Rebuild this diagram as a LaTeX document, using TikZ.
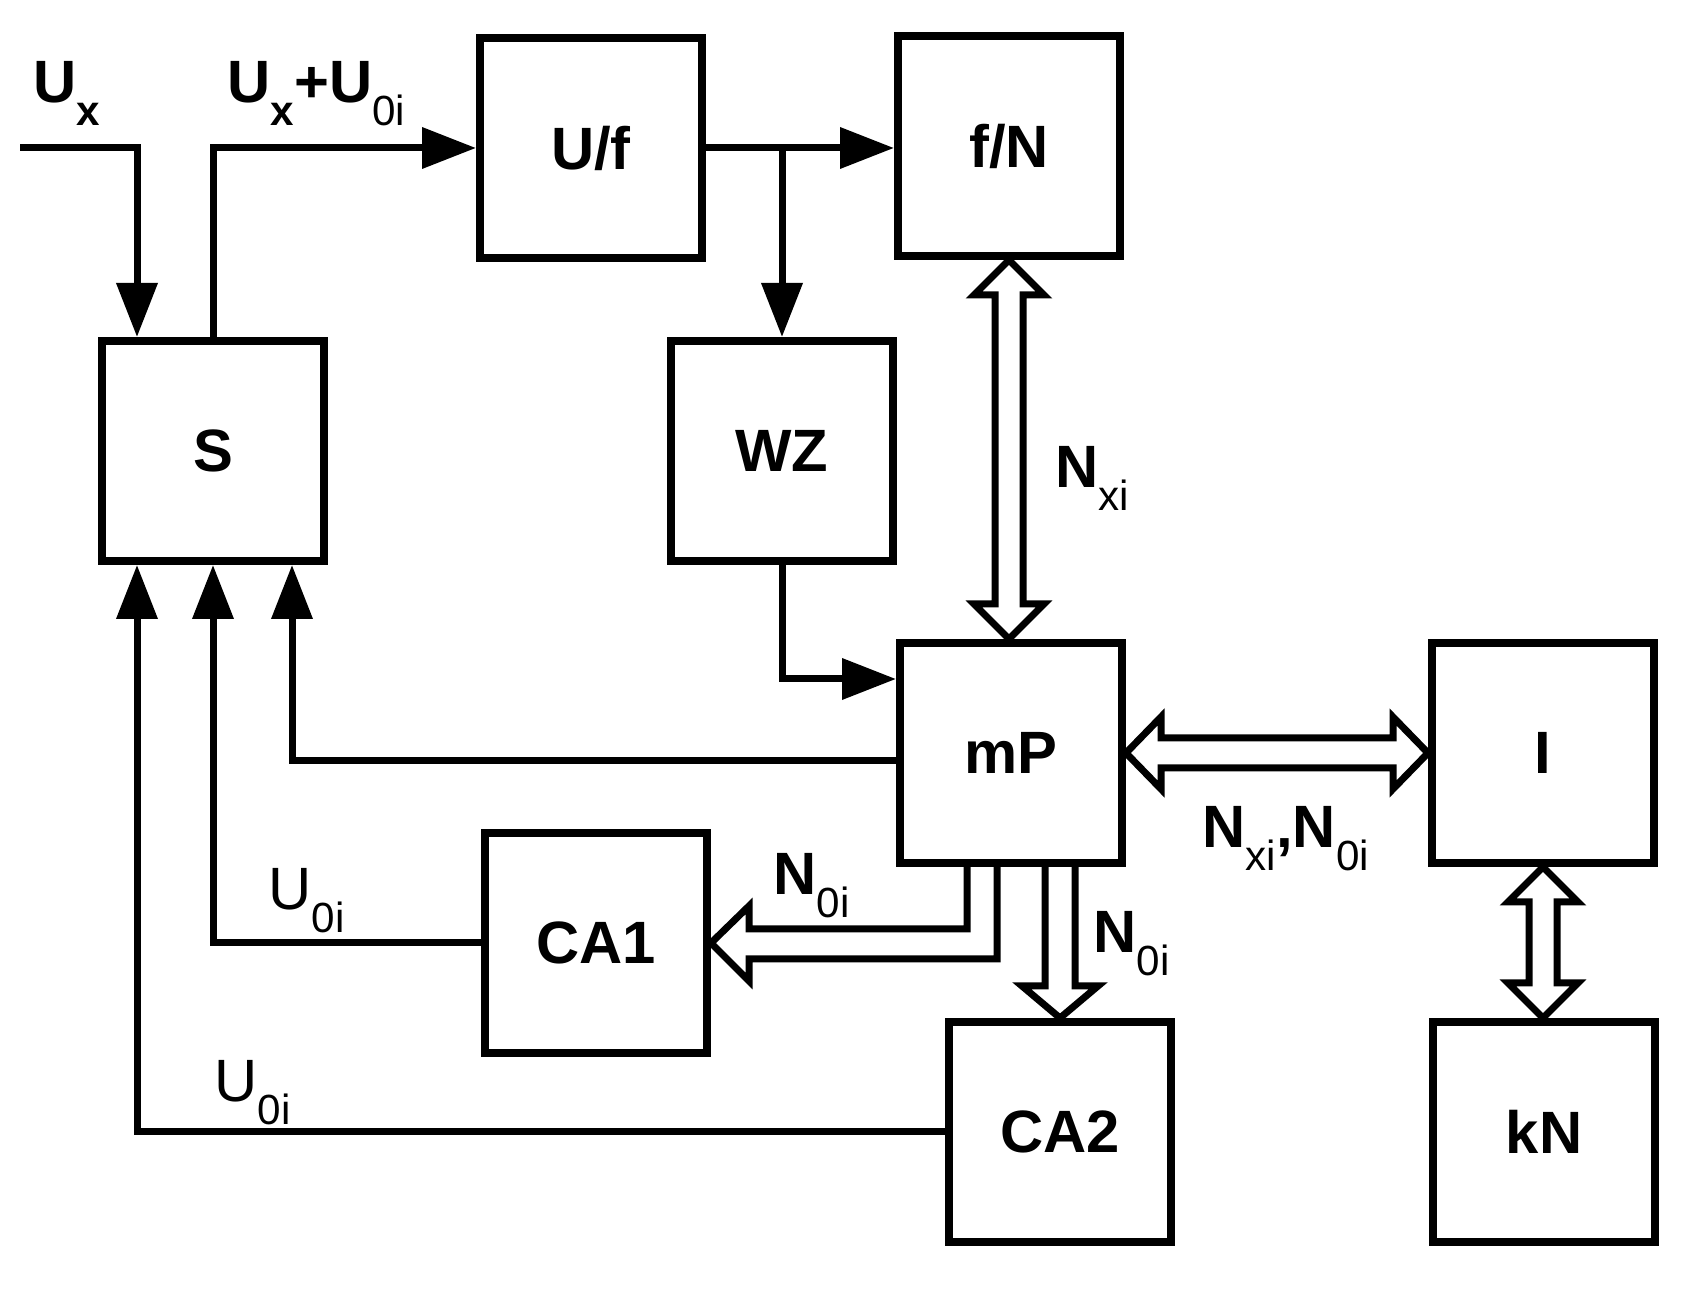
\documentclass[tikz,border=0pt]{standalone}
\usepackage{fontspec}
\setsansfont{Liberation Sans}
\usetikzlibrary{arrows.meta, calc}
% lowered index for signal names
\newcommand{\idx}[1]{\raisebox{-6.5pt}{\fontsize{12}{12}\selectfont #1}}
% hollow bus arrows, #1 top/left tip, #2 bottom/right tip
\newcommand{\busV}[2]{%
  \draw[bus] (#1) -- ($(#1)+(35,35)$) -- ($(#1)+(14,35)$) -- ($(#2)+(14,-35)$)
    -- ($(#2)+(35,-35)$) -- (#2) -- ($(#2)+(-35,-35)$) -- ($(#2)+(-14,-35)$)
    -- ($(#1)+(-14,35)$) -- ($(#1)+(-35,35)$) -- cycle;}
\newcommand{\busH}[2]{%
  \draw[bus] (#1) -- ($(#1)+(35,-36)$) -- ($(#1)+(35,-15)$) -- ($(#2)+(-35,-15)$)
    -- ($(#2)+(-35,-36)$) -- (#2) -- ($(#2)+(-35,36)$) -- ($(#2)+(-35,15)$)
    -- ($(#1)+(35,15)$) -- ($(#1)+(35,36)$) -- cycle;}
\begin{document}
\begin{tikzpicture}[
        x=0.1mm, y=-0.1mm,
        font=\sffamily\fontsize{17}{20}\selectfont,
        blk/.style={draw, line width=0.8mm, minimum width=22.2mm,
                    minimum height=22mm, inner sep=0pt,
                    font=\sffamily\bfseries\fontsize{17}{20}\selectfont},
        sig/.style={line width=0.7mm, -{Triangle[length=5.4mm, width=4mm]}},
        wire/.style={line width=0.7mm},
        bus/.style={draw, line width=0.7mm, line join=miter},
        lbl/.style={anchor=base west, inner sep=0pt},
      ]
      \useasboundingbox (0,0) rectangle (1698,1290);

      % Blocks
      \node[blk] (S)   at (213,451)    {S};
      \node[blk] (Uf)  at (591,148)    {U/f};
      \node[blk] (fN)  at (1009,146)   {f/N};
      \node[blk] (WZ)  at (782,451)    {WZ};
      \node[blk] (mP)  at (1011,753)   {mP};
      \node[blk] (I)   at (1543,753)   {I};
      \node[blk] (CA1) at (596,943)    {CA1};
      \node[blk] (CA2) at (1060,1132)  {CA2};
      \node[blk] (kN)  at (1544,1132)  {kN};

      % Analog signal path
      \coordinate (ux) at (20,148);
      \draw[sig] (ux) -| ($(S.north)+(-76,0)$);
      \draw[sig] (S.north) |- (Uf.west);
      \draw[sig] (Uf.east) -- (Uf.east -| fN.west);
      \draw[sig] (Uf.east -| WZ.north) -- (WZ.north);
      \draw[sig] (WZ.south) |- ($(mP.west)+(0,-74)$);
      \draw[sig] ($(mP.west)+(0,8)$) -| ($(S.south)+(79,0)$);
      \draw[sig] (CA1.west) -| (S.south);
      \draw[sig] (CA2.west) -| ($(S.south)+(-76,0)$);

      % Data buses
      \coordinate (b1) at (fN.south |- mP.north);
      \busV{fN.south}{b1}
      \busH{mP.east}{I.west}
      \coordinate (b2) at (I.south |- kN.north);
      \busV{I.south}{b2}
      \coordinate (b3) at (CA2.north |- mP.south);
      \draw[bus] ($(b3)+(-15,0)$) -- ($(CA2.north)+(-15,-32)$)
        -- ($(CA2.north)+(-38,-32)$) -- (CA2.north) -- ($(CA2.north)+(38,-32)$)
        -- ($(CA2.north)+(15,-32)$) -- ($(b3)+(15,0)$);
      \draw[bus] ($(mP.south)+(-44,0)$) |- ($(CA1.east)+(38,-14)$)
        -- ($(CA1.east)+(38,-37)$) -- (CA1.east) -- ($(CA1.east)+(38,38)$)
        -- ($(CA1.east)+(38,16)$) -| ($(mP.south)+(-14,0)$);

      % Labels
      \node[lbl, font=\sffamily\bfseries\fontsize{17}{20}\selectfont] (lux) at (33,103) {U\idx{x}};
      \node[lbl, font=\sffamily\bfseries\fontsize{17}{20}\selectfont] (lsum) at (227,103) {U\idx{x}+U\idx{\mdseries 0i}};
      \node[lbl, font=\sffamily\bfseries\fontsize{17}{20}\selectfont] (lnx) at (1055,488) {N\idx{\mdseries xi}};
      \node[lbl, font=\sffamily\bfseries\fontsize{17}{20}\selectfont] (ln1) at (773,895) {N\idx{\mdseries 0i}};
      \node[lbl, font=\sffamily\bfseries\fontsize{17}{20}\selectfont] (ln2) at (1093,953) {N\idx{\mdseries 0i}};
      \node[lbl, font=\sffamily\bfseries\fontsize{17}{20}\selectfont] (lnn) at (1202,848) {N\idx{\mdseries xi},N\idx{\mdseries 0i}};
      \node[lbl] (lu1) at (268,910) {U\idx{0i}};
      \node[lbl] (lu2) at (214,1102) {U\idx{0i}};
      \end{tikzpicture}
\end{document}
